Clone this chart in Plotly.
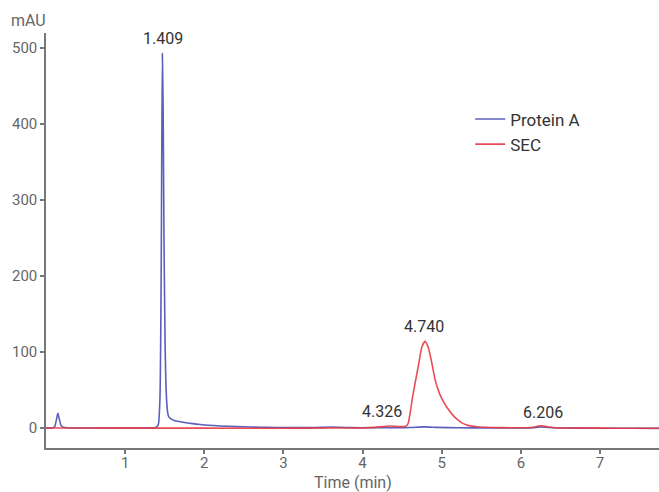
import plotly.graph_objects as go

# Protein A trace (time in min, absorbance in mAU)
protein_a_time = [0.00, 0.08, 0.11, 0.13, 0.15, 0.17, 0.19, 0.22, 0.28, 0.40, 0.80, 1.20, 1.36,
                  1.40, 1.42, 1.44, 1.455, 1.47, 1.48, 1.49, 1.505, 1.52, 1.535, 1.55, 1.58,
                  1.62, 1.68, 1.75, 1.85, 1.95, 2.05, 2.2, 2.4, 2.6, 2.8, 3.0, 3.3, 3.5, 3.6,
                  3.7, 3.85, 4.1, 4.4, 4.6, 4.78, 4.95, 5.2, 5.6, 6.0, 6.15, 6.25, 6.35, 6.5,
                  7.0, 7.4, 7.75]
protein_a_mau = [0.0, 0.0, 2.0, 10.0, 19.5, 11.0, 3.5, 1.0, 0.3, 0.0, 0.0, 0.0, 0.2,
                 1.5, 5.0, 40.0, 200.0, 493.0, 420.0, 260.0, 110.0, 45.0, 22.0, 15.0, 12.0,
                 10.0, 8.5, 7.2, 5.8, 4.6, 3.6, 2.7, 1.9, 1.3, 0.9, 0.6, 0.5, 0.8, 1.3,
                 1.0, 0.5, 0.3, 0.3, 0.6, 1.5, 0.8, 0.3, 0.1, 0.1, 0.5, 1.4, 0.6, 0.1,
                 -0.3, -0.4, -0.5]

# SEC trace
sec_time = [0.00, 0.5, 1.0, 2.0, 3.0, 3.6, 4.0, 4.15, 4.25, 4.33, 4.42, 4.5, 4.55,
            4.575, 4.60, 4.63, 4.66, 4.71, 4.75, 4.79, 4.83, 4.87, 4.92, 4.97, 5.02,
            5.08, 5.14, 5.20, 5.26, 5.33, 5.42, 5.55, 5.75, 6.0, 6.15, 6.22, 6.27, 6.33,
            6.42, 6.6, 7.0, 7.4, 7.75]
sec_mau = [0.0, 0.0, -0.2, -0.2, -0.3, 0.0, 0.2, 0.8, 1.8, 2.6, 2.2, 1.8, 2.5,
           6.0, 19.0, 40.0, 57.0, 85.0, 107.0, 114.0, 106.0, 88.0, 62.0, 46.0, 35.0,
           25.0, 17.0, 11.0, 6.5, 3.5, 2.0, 1.0, 0.5, 0.3, 0.6, 2.5, 3.0, 1.6,
           0.4, 0.0, -0.2, -0.3, -0.3]

# Peak labels
label_text = ["1.409", "4.740", "4.326", "6.206"]
label_x = [1.48, 4.78, 4.245, 6.28]
label_y = [513, 133, 22, 21]

x_range = [0.0, 7.745]
y_range = [-26.3, 520]
x_ticks = [1, 2, 3, 4, 5, 6, 7]
y_ticks = [0, 100, 200, 300, 400, 500]

fig = go.Figure()
fig.add_trace(go.Scatter(x=protein_a_time, y=protein_a_mau, mode="lines", name="Protein A",
                         line=dict(color="rgba(72,78,178,0.9)", width=1.6, shape="spline", smoothing=0.6)))
fig.add_trace(go.Scatter(x=sec_time, y=sec_mau, mode="lines", name="SEC",
                         line=dict(color="rgba(232,56,68,0.9)", width=1.6, shape="spline", smoothing=0.6)))

for t, xv, yv in zip(label_text, label_x, label_y):
    fig.add_annotation(x=xv, y=yv, text=t, showarrow=False, xanchor="center", yanchor="middle",
                       font=dict(family="Roboto", size=16, color="#333333"))

fig.add_annotation(x=-0.057, y=1.031, xref="paper", yref="paper", text="mAU", showarrow=False,
                   xanchor="left", yanchor="middle", xshift=-2,
                   font=dict(family="Roboto", size=16, color="#666666"))
fig.add_annotation(x=0.5, y=-0.082, xref="paper", yref="paper", text="Time (min)", showarrow=False,
                   xanchor="center", yanchor="middle",
                   font=dict(family="Roboto", size=16, color="#666666"))

axis_common = dict(showline=True, linecolor="#777777", linewidth=1.5, ticks="outside",
                   ticklen=4, tickwidth=1.5, tickcolor="#777777", showgrid=False, zeroline=False,
                   tickfont=dict(family="Roboto", size=15, color="#666666"))

fig.update_layout(
    width=659, height=492,
    margin=dict(l=46, r=0, t=33, b=44),
    paper_bgcolor="white", plot_bgcolor="white",
    xaxis=dict(range=x_range, tickvals=x_ticks, ticklabelstandoff=-4, **axis_common),
    yaxis=dict(range=y_range, tickvals=y_ticks, ticklabelstandoff=0, **axis_common),
    legend=dict(x=0.692, y=0.835, xanchor="left", yanchor="top", bgcolor="rgba(0,0,0,0)",
                font=dict(family="Roboto", size=17, color="#333333"), tracegroupgap=0),
    showlegend=True,
)

fig.write_html("out.html")
